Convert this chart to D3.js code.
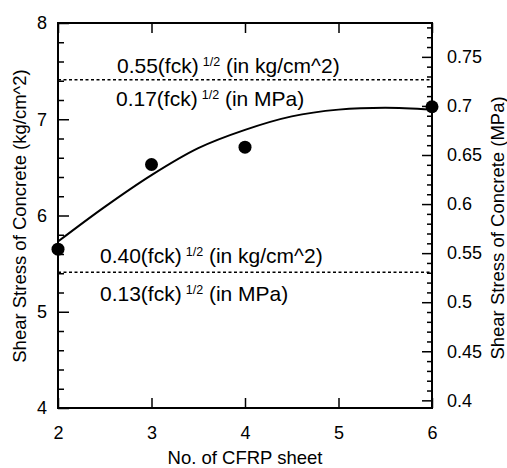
<!DOCTYPE html>
<html>
  <head>
    <meta charset="utf-8">
    <style>
      body { margin: 0; background: #fff; }
      text { font-family: "Liberation Sans", Arial, sans-serif; fill: #000; }
      .frame { fill: none; stroke: #000; stroke-width: 2px; }
      .fit { fill: none; stroke: #000; stroke-width: 2px; }
      .limit { stroke: #000; stroke-width: 1.5px; stroke-dasharray: 3,2.5; }
      .axis path { display: none; }
      .axis line { stroke: #000; stroke-width: 1.5px; }
    </style>
  </head>
  <body>
    <div class="chart"></div>
    <script src="https://cdn.jsdelivr.net/npm/d3@7"></script>
    <script>

// measured points
var sheets = [2, 3, 4, 6];
var shearStress = [5.65, 6.53, 6.71, 7.13];

// fitted trend line
var fitSheets = [2, 2.5, 3, 3.5, 4, 4.5, 5, 5.5, 6];
var fitStress = [5.73, 6.09, 6.42, 6.70, 6.89, 7.03, 7.10, 7.12, 7.10];

// code limits (kg/cm^2) and their labels
var limitStress = [7.41, 5.41];
var limitUpper = ['0.55(fck)', '0.40(fck)'];
var limitLower = ['0.17(fck)', '0.13(fck)'];

var xTicks = [2, 3, 4, 5, 6];
var yTicks = [4, 5, 6, 7, 8];
var yMinor = [4.2, 4.4, 4.6, 4.8, 5.2, 5.4, 5.6, 5.8, 6.2, 6.4, 6.6, 6.8, 7.2, 7.4, 7.6, 7.8];
var mpaDomain = [0.3922, 0.7845];
var mpaTicks = [0.4, 0.45, 0.5, 0.55, 0.6, 0.65, 0.7, 0.75];
var mpaMinor = [0.41, 0.42, 0.43, 0.44, 0.46, 0.47, 0.48, 0.49, 0.51, 0.52, 0.53, 0.54,
  0.56, 0.57, 0.58, 0.59, 0.61, 0.62, 0.63, 0.64, 0.66, 0.67, 0.68, 0.69,
  0.71, 0.72, 0.73, 0.74, 0.76, 0.77, 0.78];

var width = 507;
var height = 468;
var plotLeft = 58, plotRight = 432, plotTop = 23, plotBottom = 408;

var x = d3.scaleLinear().domain([2, 6]).range([plotLeft, plotRight]);
var y = d3.scaleLinear().domain([4, 8]).range([plotBottom, plotTop]);
var y2 = d3.scaleLinear().domain(mpaDomain).range([plotBottom, plotTop]);

var svg = d3.select('.chart').append('svg')
    .attr('width', width)
    .attr('height', height);

// axes
svg.append('g')
    .attr('class', 'axis')
    .attr('transform', 'translate(0,' + plotBottom + ')')
    .call(d3.axisBottom(x).tickValues(xTicks).tickSizeInner(-10).tickPadding(18)
      .tickFormat(d3.format('d')))
    .selectAll('text').style('font-size', '18px');

svg.append('g')
    .attr('class', 'axis')
    .attr('transform', 'translate(0,' + plotTop + ')')
    .call(d3.axisTop(x).tickValues(xTicks).tickSizeInner(-10).tickFormat(''));

svg.append('g')
    .attr('class', 'axis')
    .attr('transform', 'translate(' + plotLeft + ',0)')
    .call(d3.axisLeft(y).tickValues(yTicks).tickSizeInner(-11).tickPadding(11)
      .tickFormat(d3.format('d')))
    .selectAll('text').style('font-size', '18px');

svg.append('g')
    .attr('class', 'axis')
    .attr('transform', 'translate(' + plotLeft + ',0)')
    .call(d3.axisLeft(y).tickValues(yMinor).tickSizeInner(-6).tickFormat(''));

svg.append('g')
    .attr('class', 'axis')
    .attr('transform', 'translate(' + plotRight + ',0)')
    .call(d3.axisRight(y2).tickValues(mpaTicks).tickSizeInner(-10).tickPadding(15)
      .tickFormat(function (d) { return String(d); }))
    .selectAll('text').style('font-size', '18px');

svg.append('g')
    .attr('class', 'axis')
    .attr('transform', 'translate(' + plotRight + ',0)')
    .call(d3.axisRight(y2).tickValues(mpaMinor).tickSizeInner(-5).tickFormat(''));

svg.append('rect')
    .attr('class', 'frame')
    .attr('x', plotLeft)
    .attr('y', plotTop)
    .attr('width', plotRight - plotLeft)
    .attr('height', plotBottom - plotTop);

// limit lines
svg.selectAll('.limit')
    .data(limitStress)
  .enter().append('line')
    .attr('class', 'limit')
    .attr('x1', x(2))
    .attr('x2', x(6))
    .attr('y1', function (d) { return y(d); })
    .attr('y2', function (d) { return y(d); });

function limitLabel(xPos, yPos, main, tail) {
  var t = svg.append('text')
      .attr('x', xPos)
      .attr('y', yPos)
      .style('font-size', '21px');
  t.append('tspan').text(main);
  t.append('tspan').attr('dx', 4).attr('dy', -7).style('font-size', '12.5px').text('1/2');
  t.append('tspan').attr('dy', 7).text(' ' + tail);
}

limitLabel(117, y(limitStress[0]) - 7, limitUpper[0], '(in kg/cm^2)');
limitLabel(116, y(limitStress[0]) + 26, limitLower[0], '(in MPa)');
limitLabel(100, y(limitStress[1]) - 9, limitUpper[1], '(in kg/cm^2)');
limitLabel(100, y(limitStress[1]) + 29, limitLower[1], '(in MPa)');

// trend line
var line = d3.line()
    .curve(d3.curveCatmullRom)
    .x(function (d, i) { return x(fitSheets[i]); })
    .y(function (d) { return y(d); });

svg.append('path')
    .datum(fitStress)
    .attr('class', 'fit')
    .attr('d', line);

// points
svg.selectAll('.pt')
    .data(shearStress)
  .enter().append('circle')
    .attr('class', 'pt')
    .attr('cx', function (d, i) { return x(sheets[i]); })
    .attr('cy', function (d) { return y(d); })
    .attr('r', 6.5)
    .attr('fill', '#000');

// titles
svg.append('text')
    .attr('transform', 'translate(26,216) rotate(-90)')
    .attr('text-anchor', 'middle')
    .style('font-size', '18.5px')
    .text('Shear Stress of Concrete (kg/cm^2)');

svg.append('text')
    .attr('transform', 'translate(504,228) rotate(-90)')
    .attr('text-anchor', 'middle')
    .style('font-size', '18.5px')
    .text('Shear Stress of Concrete (MPa)');

svg.append('text')
    .attr('x', (plotLeft + plotRight) / 2)
    .attr('y', 464)
    .attr('text-anchor', 'middle')
    .style('font-size', '18.5px')
    .text('No. of CFRP sheet');

    </script>
  </body>
</html>
